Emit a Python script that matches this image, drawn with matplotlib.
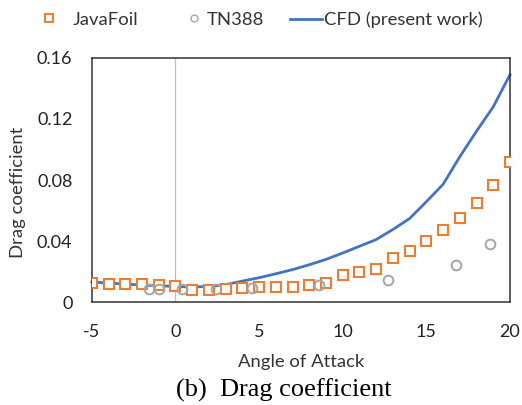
import numpy as np
import matplotlib.pyplot as plt
from matplotlib.lines import Line2D

plt.rcParams['font.family'] = ['Lato', 'DejaVu Sans']
plt.rcParams['axes.unicode_minus'] = False

# angle of attack (deg) and drag coefficient
alpha_jf = np.arange(-5, 21)
cd_jf = [0.0125, 0.0120, 0.0116, 0.0120, 0.0114, 0.0103, 0.0077, 0.0081,
         0.0086, 0.0092, 0.0096, 0.0099, 0.0099, 0.0114, 0.0125, 0.0175,
         0.0197, 0.0219, 0.0290, 0.0333, 0.0400, 0.0470, 0.0550, 0.0650,
         0.0770, 0.0920]

alpha_tn = [-1.6, -1.0, 0.4, 2.4, 4.6, 8.6, 12.7, 16.8, 18.8]
cd_tn = [0.0088, 0.0088, 0.0086, 0.0088, 0.0094, 0.0110, 0.0142, 0.0241, 0.0384]

alpha_cfd = np.arange(-5, 21)
cd_cfd = [0.0132, 0.0125, 0.0118, 0.0112, 0.0107, 0.0103, 0.0099, 0.0103,
          0.0114, 0.0138, 0.0160, 0.0186, 0.0213, 0.0245, 0.0280, 0.0322,
          0.0366, 0.0410, 0.0476, 0.0548, 0.0658, 0.0772, 0.0953, 0.1120,
          0.1280, 0.1490]

orange = '#ed7d31'
grey = '#a5a5a5'
blue = '#4472c4'
txt = '#333333'

fig = plt.figure(figsize=(5.22, 4.05), dpi=100)
ax = fig.add_axes([0.176, 0.254, 0.801, 0.603])

ax.axvline(0, color='#bfbfbf', lw=0.9, zorder=1)
ax.plot(alpha_jf, cd_jf, 's', ms=7, mfc='white', mec=orange, mew=1.5, zorder=3)
ax.plot(alpha_tn, cd_tn, 'o', ms=7, mfc='none', mec=grey, mew=1.4, zorder=3)
ax.plot(alpha_cfd, cd_cfd, '-', color=blue, lw=2.0, zorder=2, clip_on=False)

ax.set_xlim(-5, 20)
ax.set_ylim(0, 0.16)
ax.set_xticks([-5, 0, 5, 10, 15, 20])
ax.set_yticks([0, 0.04, 0.08, 0.12, 0.16])
ax.set_yticklabels(['0', '0.04', '0.08', '0.12', '0.16'])
ax.tick_params(length=0, labelsize=13, colors='#222222', pad=14)
ax.tick_params(axis='x', pad=16)
for s in ax.spines.values():
    s.set_color(txt)
    s.set_linewidth(1.1)

ax.set_xlabel('Angle of Attack', fontsize=13.3, color=txt)
ax.xaxis.set_label_coords(0.5, -0.212)
ax.set_ylabel('Drag coefficient', fontsize=13.3, color=txt)
ax.yaxis.set_label_coords(-0.158, 0.451)

# legend entries placed one by one along the top
entries = [
    (Line2D([], [], ls='none', marker='s', ms=6, mfc='white', mec=orange, mew=1.4),
     'JavaFoil', 0.065, 1.6, 0.5),
    (Line2D([], [], ls='none', marker='o', ms=5, mfc='none', mec=grey, mew=1.0),
     'TN388', 0.353, 1.0, 0.2),
    (Line2D([], [], color=blue, lw=2.0),
     'CFD (present work)', 0.556, 1.72, 0.1),
]
for handle, label, x0, hl, hp in entries:
    fig.legend(handles=[handle], labels=[label], loc='center left',
               bbox_to_anchor=(x0, 0.951), frameon=False, fontsize=13.3,
               handlelength=hl, handletextpad=hp, borderpad=0,
               borderaxespad=0, labelcolor=txt)

fig.text(0.544, 0.0198, '(b)  Drag coefficient', ha='center', va='baseline',
         fontsize=19, family='Liberation Serif')

fig.savefig('out.png', dpi=100)
